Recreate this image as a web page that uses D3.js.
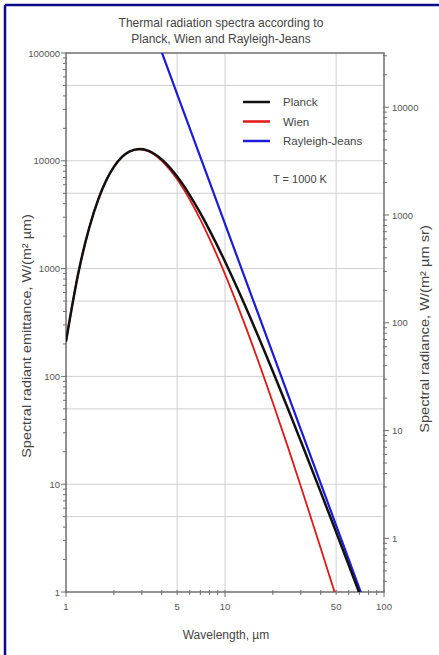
<!DOCTYPE html>
<meta charset="utf-8">
<script src="https://cdn.jsdelivr.net/npm/d3@7"></script>
<style>
body { margin: 0; background: #fff; }
text { font-family: Arial, "Liberation Sans", sans-serif; fill: #444; }
.grid { stroke: #d0d0d0; stroke-width: 1; }
.axis { stroke: #707070; stroke-width: 1.5; fill: none; }
.tick { stroke: #707070; stroke-width: 1; }
.ticklabel { font-size: 9.5px; fill: #555; }
</style>
<body>
<script>

// values (T = 1000 K)
var wavelength = [1, 1.2, 1.4, 1.6, 1.8, 2, 2.25, 2.5, 2.9, 3.25, 3.5, 4, 4.5, 5, 6, 7, 8, 10, 12, 15, 20, 25, 30, 40, 50, 60, 70, 80];
var planck = [211, 933, 2394, 4438, 6690, 8789, 10857, 12170, 12866, 12480, 11874, 10296, 8641, 7140, 4812, 3269, 2265, 1164, 649, 306, 111, 49.3, 25.0, 8.44, 3.59, 1.78, 0.976, 0.58];
var wien = [211, 933, 2394, 4437, 6687, 8782, 10839, 12132, 12776, 12331, 11679, 10014, 8288, 6738, 4374, 2851, 1890, 888, 453, 189, 57.0, 21.6, 9.53, 2.55, 0.898, 0.379, 0.181, 0.095];
var rjWavelength = [3, 4, 5, 10, 20, 50, 70, 80];
var rayleighJeans = [321000, 101600, 41600, 2601, 162.5, 4.16, 1.083, 0.635];

var xTickLabels = [1, 5, 10, 50, 100];
var yTickLabels = [1, 10, 100, 1000, 10000, 100000];
var y2TickLabels = [1, 10, 100, 1000, 10000];
var hGrid = [5, 10, 50, 100, 500, 1000, 5000, 10000, 50000];
var vGrid = [5, 10, 50];

var legendItems = [
  {name: "Planck", color: "#111111", width: 2.5},
  {name: "Wien", color: "#e01818", width: 1.8},
  {name: "Rayleigh-Jeans", color: "#1c1cd8", width: 2.2}
];

var width = 439, height = 655;
var margin = {left: 66, right: 384, top: 53, bottom: 592};

var svg = d3.select("body").append("svg")
    .attr("width", width)
    .attr("height", height);

// frame
svg.append("line").attr("x1", 5).attr("y1", 5).attr("x2", width).attr("y2", 5)
    .attr("stroke", "#0a0a8a").attr("stroke-width", 2.5);
svg.append("line").attr("x1", 5).attr("y1", 5).attr("x2", 5).attr("y2", height)
    .attr("stroke", "#0a0a8a").attr("stroke-width", 2.5);

var x = d3.scaleLog().domain([1, 100]).range([margin.left, margin.right]);
var y = d3.scaleLog().domain([1, 100000]).range([margin.bottom, margin.top]);
// radiance = emittance / pi
var y2 = d3.scaleLog().domain([1 / Math.PI, 100000 / Math.PI]).range([margin.bottom, margin.top]);

// grid
svg.append("g").selectAll("line").data(hGrid).enter().append("line")
    .attr("class", "grid")
    .attr("x1", margin.left).attr("x2", margin.right)
    .attr("y1", d => y(d)).attr("y2", d => y(d));
svg.append("g").selectAll("line").data(vGrid).enter().append("line")
    .attr("class", "grid")
    .attr("y1", margin.top).attr("y2", margin.bottom)
    .attr("x1", d => x(d)).attr("x2", d => x(d));

// minor / major ticks
function logTicks(lo, hi) {
  var out = [];
  for (var p = Math.floor(Math.log10(lo)); p <= Math.ceil(Math.log10(hi)); p++) {
    for (var m = 1; m < 10; m++) {
      var v = m * Math.pow(10, p);
      if (v >= lo * 0.9999 && v <= hi * 1.0001) out.push({v: v, major: m == 1});
    }
  }
  return out;
}

var tickG = svg.append("g");
tickG.selectAll(".xt").data(logTicks(1, 100)).enter().append("line")
    .attr("class", "tick")
    .attr("x1", d => x(d.v)).attr("x2", d => x(d.v))
    .attr("y1", margin.bottom - 2).attr("y2", d => margin.bottom + (d.major ? 5 : 3));
tickG.selectAll(".yt").data(logTicks(1, 100000)).enter().append("line")
    .attr("class", "tick")
    .attr("y1", d => y(d.v)).attr("y2", d => y(d.v))
    .attr("x1", margin.left + 1).attr("x2", d => margin.left - (d.major ? 5 : 3));
tickG.selectAll(".y2t").data(logTicks(1 / Math.PI, 100000 / Math.PI)).enter().append("line")
    .attr("class", "tick")
    .attr("y1", d => y2(d.v)).attr("y2", d => y2(d.v))
    .attr("x1", margin.right - 1).attr("x2", d => margin.right + (d.major ? 5 : 3));

// axes frame
svg.append("path").attr("class", "axis")
    .attr("d", "M" + margin.left + "," + margin.top + "H" + margin.right + "V" + margin.bottom + "H" + margin.left + "Z");

// tick labels
svg.append("g").selectAll("text").data(xTickLabels).enter().append("text")
    .attr("class", "ticklabel")
    .attr("x", d => x(d)).attr("y", margin.bottom + 18)
    .attr("text-anchor", "middle")
    .text(d => d);
svg.append("g").selectAll("text").data(yTickLabels).enter().append("text")
    .attr("class", "ticklabel")
    .attr("x", margin.left - 6).attr("y", d => y(d) + 3.5)
    .attr("text-anchor", "end")
    .text(d => d);
svg.append("g").selectAll("text").data(y2TickLabels).enter().append("text")
    .attr("class", "ticklabel")
    .attr("x", margin.right + 8).attr("y", d => y2(d) + 3.5)
    .attr("text-anchor", "start")
    .text(d => d);

// curves
svg.append("clipPath").attr("id", "clip").append("rect")
    .attr("x", margin.left).attr("y", margin.top)
    .attr("width", margin.right - margin.left).attr("height", margin.bottom - margin.top);

var line = d3.line()
    .x(d => x(d[0])).y(d => y(d[1]))
    .curve(d3.curveMonotoneX);

var plot = svg.append("g").attr("clip-path", "url(#clip)");
plot.append("path")
    .attr("d", line(d3.zip(rjWavelength, rayleighJeans)))
    .attr("fill", "none").attr("stroke", legendItems[2].color).attr("stroke-width", legendItems[2].width);
plot.append("path")
    .attr("d", line(d3.zip(wavelength, wien)))
    .attr("fill", "none").attr("stroke", legendItems[1].color).attr("stroke-width", legendItems[1].width);
plot.append("path")
    .attr("d", line(d3.zip(wavelength, planck)))
    .attr("fill", "none").attr("stroke", legendItems[0].color).attr("stroke-width", legendItems[0].width);

// legend
var lg = svg.append("g").selectAll("g").data(legendItems).enter().append("g")
    .attr("transform", (d, i) => "translate(243," + (102 + i * 19.5) + ")");
lg.append("line").attr("x1", 0).attr("x2", 27)
    .attr("stroke", d => d.color).attr("stroke-width", 2.5);
lg.append("text").attr("x", 40).attr("y", 4)
    .style("font-size", "11.5px").text(d => d.name);

svg.append("text").attr("x", 300).attr("y", 183)
    .attr("text-anchor", "middle").style("font-size", "11px")
    .text("T = 1000 K");

// titles
svg.append("text").attr("x", 221).attr("y", 27)
    .attr("text-anchor", "middle").style("font-size", "12px")
    .text("Thermal radiation spectra according to");
svg.append("text").attr("x", 221).attr("y", 43)
    .attr("text-anchor", "middle").style("font-size", "12px")
    .text("Planck, Wien and Rayleigh-Jeans");

svg.append("text").attr("x", 226).attr("y", 639)
    .attr("text-anchor", "middle").style("font-size", "12px")
    .text("Wavelength, µm");

// vertical labels look stretched along their length in the reference
svg.append("text")
    .attr("transform", "translate(31,336) rotate(-90) scale(1.2,1)")
    .attr("text-anchor", "middle").style("font-size", "12px")
    .text("Spectral radiant emittance, W/(m² µm)");

svg.append("text")
    .attr("transform", "translate(429,329) rotate(-90) scale(1.22,1)")
    .attr("text-anchor", "middle").style("font-size", "12px")
    .text("Spectral radiance, W/(m² µm sr)");

</script>
</body>
